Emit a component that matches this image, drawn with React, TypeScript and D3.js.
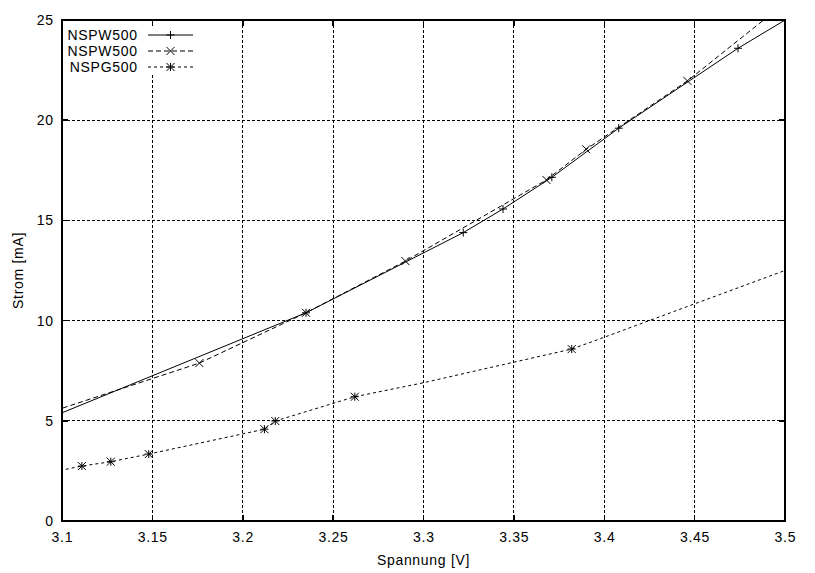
import React from "react";
import * as d3 from "d3";

// ---- data ----
const xTickValues = [3.1, 3.15, 3.2, 3.25, 3.3, 3.35, 3.4, 3.45, 3.5];
const xTickLabels = ["3.1", "3.15", "3.2", "3.25", "3.3", "3.35", "3.4", "3.45", "3.5"];
const yTickValues = [0, 5, 10, 15, 20, 25];
const yTickLabels = ["0", "5", "10", "15", "20", "25"];

const seriesNames = ["NSPW500", "NSPW500", "NSPG500"];

// NSPW500 (solid, "+")
const nspwALine: [number, number][] = [
  [3.05, 3.55], [3.235, 10.39], [3.322, 14.39], [3.344, 15.57], [3.371, 17.15],
  [3.408, 19.6], [3.474, 23.59], [3.55, 27.7],
];
const nspwAPoints: [number, number][] = [
  [3.235, 10.39], [3.322, 14.39], [3.344, 15.57], [3.371, 17.15], [3.408, 19.6], [3.474, 23.59],
];

// NSPW500 (dashed, "x")
const nspwBLine: [number, number][] = [
  [3.05, 4.14], [3.176, 7.88], [3.235, 10.39], [3.29, 12.97], [3.368, 17.02],
  [3.39, 18.55], [3.446, 21.96], [3.55, 29.45],
];
const nspwBPoints: [number, number][] = [
  [3.176, 7.88], [3.235, 10.39], [3.29, 12.97], [3.368, 17.02], [3.39, 18.55], [3.446, 21.96],
];

// NSPG500 (dotted, "*")
const nspgLine: [number, number][] = [
  [3.05, 1.64], [3.111, 2.74], [3.127, 2.96], [3.148, 3.34], [3.212, 4.58], [3.218, 4.99],
  [3.262, 6.2], [3.3, 6.9], [3.382, 8.58], [3.4, 9.17], [3.55, 14.17],
];
const nspgPoints: [number, number][] = [
  [3.111, 2.74], [3.127, 2.96], [3.148, 3.34], [3.212, 4.58], [3.218, 4.99], [3.262, 6.2], [3.382, 8.58],
];

const W = 815;
const H = 573;
const M = { left: 62, right: 785, top: 20, bottom: 521 };
const FONT = "'Liberation Sans', Arial, Helvetica, sans-serif";
const LS = 0.7;

function Marker({ type, x, y }: { type: string; x: number; y: number }) {
  const s = 4;
  const plus = `M${x - s},${y}H${x + s}M${x},${y - s}V${y + s}`;
  const cross = `M${x - s},${y - s}L${x + s},${y + s}M${x - s},${y + s}L${x + s},${y - s}`;
  const d = type === "plus" ? plus : type === "cross" ? cross : plus + cross;
  return <path d={d} stroke="#000" strokeWidth={1} fill="none" />;
}

export default function App() {
  const x = d3.scaleLinear().domain([3.1, 3.5]).range([M.left, M.right]);
  const y = d3.scaleLinear().domain([0, 25]).range([M.bottom, M.top]);
  const line = d3
    .line<[number, number]>()
    .x((d) => x(d[0]))
    .y((d) => y(d[1]));

  const series = [
    { name: seriesNames[0], line: nspwALine, points: nspwAPoints, dash: undefined, marker: "plus" },
    { name: seriesNames[1], line: nspwBLine, points: nspwBPoints, dash: "5,3", marker: "cross" },
    { name: seriesNames[2], line: nspgLine, points: nspgPoints, dash: "3,3", marker: "star" },
  ];

  const legendY = [35, 51, 67];
  const tickLen = 6;

  return (
    <svg
      width={W}
      height={H}
      style={{ position: "absolute", left: 0, top: 0, background: "#fff" }}
      fontFamily={FONT}
    >
      <defs>
        <clipPath id="plotClip">
          <rect x={M.left} y={M.top} width={M.right - M.left} height={M.bottom - M.top} />
        </clipPath>
      </defs>
      <rect x={0} y={0} width={W} height={H} fill="#fff" />

      {/* grid */}
      <g stroke="#000" strokeWidth={1} strokeDasharray="3,2" shapeRendering="crispEdges">
        {xTickValues.slice(1, -1).map((v, i) => (
          <line key={"gx" + i} x1={x(v)} x2={x(v)} y1={M.top} y2={M.bottom} />
        ))}
        {yTickValues.slice(1, -1).map((v, i) => (
          <line key={"gy" + i} x1={M.left} x2={M.right} y1={y(v)} y2={y(v)} />
        ))}
      </g>

      {/* legend background */}
      <rect x={M.left + 1} y={M.top + 1} width={138} height={54} fill="#fff" />

      {/* series */}
      <g clipPath="url(#plotClip)">
        {series.map((s, i) => (
          <g key={"s" + i}>
            <path d={line(s.line) || ""} fill="none" stroke="#000" strokeWidth={1} strokeDasharray={s.dash} />
            {s.points.map((p, j) => (
              <Marker key={j} type={s.marker} x={x(p[0])} y={y(p[1])} />
            ))}
          </g>
        ))}
      </g>

      {/* ticks */}
      <g stroke="#000" strokeWidth={1.5} shapeRendering="crispEdges">
        {xTickValues.map((v, i) => (
          <g key={"tx" + i}>
            <line x1={x(v)} x2={x(v)} y1={M.bottom} y2={M.bottom - tickLen} />
            <line x1={x(v)} x2={x(v)} y1={M.top} y2={M.top + tickLen} />
          </g>
        ))}
        {yTickValues.map((v, i) => (
          <g key={"ty" + i}>
            <line x1={M.left} x2={M.left + tickLen} y1={y(v)} y2={y(v)} />
            <line x1={M.right} x2={M.right - tickLen} y1={y(v)} y2={y(v)} />
          </g>
        ))}
      </g>

      {/* border */}
      <rect
        x={M.left}
        y={M.top}
        width={M.right - M.left}
        height={M.bottom - M.top}
        fill="none"
        stroke="#000"
        strokeWidth={2}
        shapeRendering="crispEdges"
      />

      {/* tick labels */}
      <g fontSize={14} fill="#000" letterSpacing={LS}>
        {xTickValues.map((v, i) => (
          <text key={"lx" + i} x={x(v) + LS / 2} y={542} textAnchor="middle">
            {xTickLabels[i]}
          </text>
        ))}
        {yTickValues.map((v, i) => (
          <text key={"ly" + i} x={53 + LS} y={y(v) + 5} textAnchor="end">
            {yTickLabels[i]}
          </text>
        ))}
      </g>

      {/* axis titles */}
      <text x={(M.left + M.right) / 2} y={565} textAnchor="middle" fontSize={14} letterSpacing={LS}>
        Spannung [V]
      </text>
      <text
        transform={`translate(23,${(M.top + M.bottom) / 2}) rotate(-90)`}
        textAnchor="middle"
        fontSize={14}
        letterSpacing={LS}
      >
        Strom [mA]
      </text>

      {/* legend */}
      <g>
        {series.map((s, i) => (
          <g key={"lg" + i}>
            <text x={137 + LS} y={legendY[i] + 5} textAnchor="end" fontSize={14} letterSpacing={LS}>
              {s.name}
            </text>
            <line x1={148} x2={193} y1={legendY[i]} y2={legendY[i]} stroke="#000" strokeWidth={1} strokeDasharray={s.dash} />
            <Marker type={s.marker} x={170.5} y={legendY[i]} />
          </g>
        ))}
      </g>
    </svg>
  );
}
